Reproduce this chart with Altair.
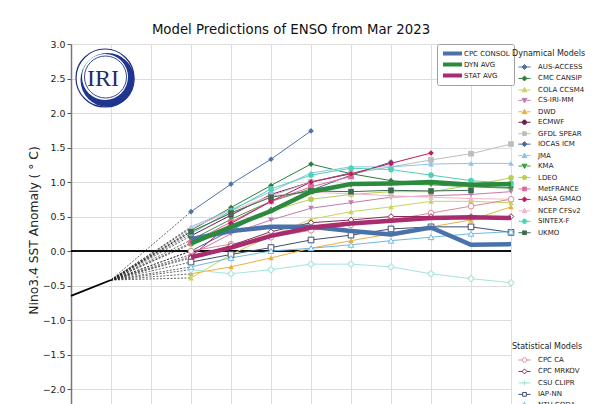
import altair as alt
import pandas as pd

TITLE = "Model Predictions of ENSO from Mar 2023"
Y_TITLE = "Nino3.4 SST Anomaly ( \u00b0 C)"
SEASONS = ["DJF", "JFM", "FMA", "MAM", "AMJ", "MJJ", "JJA", "JAS", "ASO", "SON", "OND", "NDJ"]
Y_TICKS = [-2.0, -1.5, -1.0, -0.5, 0.0, 0.5, 1.0, 1.5, 2.0, 2.5, 3.0]
Y_MAX = 3.0
Y_MIN = -2.217

OBS_SEASON = [0, 1]
OBS_VALUE = [-0.65, -0.42]
FIRST_FORECAST = 3

# Dynamical models (values from the first forecast season onward)
AUS_ACCESS = [0.57, 0.97, 1.33, 1.74]
CMC_CANSIP = [0.30, 0.63, 0.95, 1.26, 1.12, 1.02, 0.98, 0.94, 0.92]
COLA_CCSM4 = [-0.39, -0.05, 0.22, 0.46, 0.57, 0.64, 0.72, 0.72, 0.70]
CS_IRI_MM = [-0.05, 0.25, 0.45, 0.62, 0.70, 0.78, 0.80, 0.82, 0.86]
DWD = [-0.33, -0.23, -0.10, 0.04, 0.15, 0.25, 0.35, 0.45, 0.64]
ECMWF = [0.22, 0.52, 0.82, 1.00, 1.13]
GFDL_SPEAR = [0.28, 0.55, 0.80, 1.00, 1.12, 1.22, 1.32, 1.41, 1.55]
IOCAS_ICM = [0.00, 0.30, 0.60, 0.88, 1.10, 1.29]
JMA = [0.35, 0.60, 0.86, 1.13, 1.22, 1.22, 1.26, 1.27, 1.27]
KMA = [0.16, 0.46, 0.72, 0.90, 0.95, 0.97, 0.96, 0.93, 0.91]
LDEO = [0.10, 0.36, 0.58, 0.75, 0.82, 0.86, 0.86, 0.95, 1.06]
METFRANCE = [0.12, 0.42, 0.72, 0.93, 1.08]
NASA_GMAO = [-0.08, 0.40, 0.72, 1.00, 1.12, 1.27, 1.42]
NCEP_CFSV2 = [0.33, 0.58, 0.80, 0.85, 0.83, 0.80, 0.78, 0.76, 0.75]
SINTEX_F = [0.25, 0.58, 0.90, 1.10, 1.20, 1.18, 1.10, 1.02, 0.98]
UKMO = [0.28, 0.55, 0.78, 0.87, 0.86, 0.88, 0.87, 0.88]

DYN_MODELS = ["AUS-ACCESS", "CMC CANSIP", "COLA CCSM4", "CS-IRI-MM", "DWD", "ECMWF",
              "GFDL SPEAR", "IOCAS ICM", "JMA", "KMA", "LDEO", "MetFRANCE", "NASA GMAO",
              "NCEP CFSv2", "SINTEX-F", "UKMO"]
DYN_VALUES = [AUS_ACCESS, CMC_CANSIP, COLA_CCSM4, CS_IRI_MM, DWD, ECMWF, GFDL_SPEAR,
              IOCAS_ICM, JMA, KMA, LDEO, METFRANCE, NASA_GMAO, NCEP_CFSV2, SINTEX_F, UKMO]
DYN_COLORS = ["#4c74a8", "#2e7d3a", "#c5d65a", "#c27bb0", "#e8b040", "#6b1f4f",
              "#bdbdbd", "#4d6595", "#8cc4ea", "#3f9a3f", "#b4cf55", "#e0699c",
              "#c2185b", "#f2b6c6", "#4fd1b3", "#3d6b52"]
DYN_SHAPES = ["diamond", "diamond", "triangle-up", "triangle-down", "triangle-up", "circle",
              "square", "diamond", "triangle-up", "triangle-down", "circle", "square",
              "diamond", "triangle-up", "circle", "square"]

# Statistical models
CPC_CA = [0.00, 0.10, 0.20, 0.30, 0.38, 0.45, 0.55, 0.65, 0.75]
CPC_MRKOV = [-0.10, 0.08, 0.28, 0.41, 0.45, 0.50, 0.50, 0.50, 0.50]
CSU_CLIPR = [-0.27, -0.33, -0.27, -0.19, -0.19, -0.23, -0.33, -0.40, -0.46]
IAP_NN = [-0.16, -0.05, 0.05, 0.16, 0.23, 0.32, 0.35, 0.35, 0.27]
NTU_CODA = [-0.23, -0.10, 0.00, 0.04, 0.09, 0.15, 0.20, 0.25, 0.28]

STAT_MODELS = ["CPC CA", "CPC MRKOV", "CSU CLIPR", "IAP-NN", "NTU CODA"]
STAT_VALUES = [CPC_CA, CPC_MRKOV, CSU_CLIPR, IAP_NN, NTU_CODA]
STAT_COLORS = ["#d98b9b", "#8b2d52", "#a5e3dc", "#3f4d6b", "#6fb8e3"]
STAT_SHAPES = ["circle", "diamond", "cross", "square", "triangle-up"]

# Averages
AVG_NAMES = ["CPC CONSOL", "DYN AVG", "STAT AVG"]
AVG_COLORS = ["#4a72aa", "#2b8a3e", "#a82c6e"]
CPC_CONSOL = [0.17, 0.29, 0.35, 0.35, 0.29, 0.24, 0.34, 0.09, 0.10]
DYN_AVG = [0.11, 0.35, 0.58, 0.86, 0.97, 0.98, 1.00, 0.96, 0.97]
STAT_AVG = [-0.09, 0.05, 0.22, 0.34, 0.40, 0.44, 0.48, 0.49, 0.48]
AVG_VALUES = [CPC_CONSOL, DYN_AVG, STAT_AVG]

FONT = "DejaVu Sans"


def long_table(names, series):
    rows = []
    for name, vals in zip(names, series):
        for k, v in enumerate(vals):
            rows.append({"model": name, "x": FIRST_FORECAST + k, "y": v})
    return pd.DataFrame(rows)


def marker_path(shape, cx, r=0.45):
    if shape == "circle":
        r = 0.4
        return f"M{cx + r:.2f},0A{r},{r} 0 1,1 {cx - r:.2f},0A{r},{r} 0 1,1 {cx + r:.2f},0Z"
    if shape == "square":
        h = 0.34
        return f"M{cx - h:.2f},{-h}H{cx + h:.2f}V{h}H{cx - h:.2f}Z"
    if shape == "diamond":
        return f"M{cx:.2f},{-r}L{cx + r:.2f},0L{cx:.2f},{r}L{cx - r:.2f},0Z"
    if shape == "triangle-up":
        return f"M{cx:.2f},{-r}L{cx + r:.2f},{0.75 * r:.2f}H{cx - r:.2f}Z"
    if shape == "triangle-down":
        return f"M{cx:.2f},{r}L{cx + r:.2f},{-0.75 * r:.2f}H{cx - r:.2f}Z"
    return f"M{cx - r:.2f},0H{cx + r:.2f}M{cx:.2f},{-r}V{r}"


def legend_path(shape, cx=1.18):
    gap = 0.0 if shape == "cross" else 0.42
    line = f"M{cx - 1.1:.2f},0H{cx - gap:.2f}M{cx + gap:.2f},0H{cx + 1.1:.2f}"
    return line + marker_path(shape, cx)


AVG_LEGEND_PATH = "M-1.0,0H2.8"

dyn_df = long_table(DYN_MODELS, DYN_VALUES)
stat_df = long_table(STAT_MODELS, STAT_VALUES)
avg_df = long_table(AVG_NAMES, AVG_VALUES)
obs_df = pd.DataFrame({"x": OBS_SEASON, "y": OBS_VALUE})

fan_rows = []
for name, vals in zip(DYN_MODELS + STAT_MODELS, DYN_VALUES + STAT_VALUES):
    fan_rows.append({"model": name, "x": OBS_SEASON[-1], "y": OBS_VALUE[-1]})
    fan_rows.append({"model": name, "x": FIRST_FORECAST, "y": vals[0]})
fan_df = pd.DataFrame(fan_rows)

xs = alt.Scale(domain=[0, len(SEASONS) - 1], nice=False, zero=False)
ys = alt.Scale(domain=[Y_MIN, Y_MAX], nice=False, zero=False)
X_AXIS = alt.Axis(values=list(range(len(SEASONS))), labels=False, ticks=False, domain=False,
                  grid=True, title=None)
Y_AXIS = alt.Axis(values=Y_TICKS, format=".1f", title=Y_TITLE, titleFont=FONT,
                  titleFontSize=12.3, titleFontWeight="normal", titleColor="#222",
                  titleX=-38, titleY=186, titleAngle=270, titleAlign="center",
                  titleBaseline="middle",
                  labelFont=FONT, labelFontSize=9.4, labelColor="#222",
                  labelPadding=2, tickSize=4, tickColor="#555", domainColor="#777",
                  domainWidth=1.5, grid=True)
X = alt.X("x:Q", scale=xs, axis=X_AXIS)
Y = alt.Y("y:Q", scale=ys, axis=Y_AXIS)

dyn_color = alt.Scale(domain=DYN_MODELS, range=DYN_COLORS)
stat_color = alt.Scale(domain=STAT_MODELS, range=STAT_COLORS)
avg_color = alt.Scale(domain=AVG_NAMES, range=AVG_COLORS)


def model_legend(title, y):
    return alt.Legend(title=title, orient="none", legendX=441, legendY=y,
                      titleFontSize=8, titleFontWeight="normal", titleFont=FONT,
                      titleColor="#222", titlePadding=3, labelFontSize=7, labelFont=FONT,
                      labelColor="#222", labelOffset=14, symbolSize=121,
                      symbolStrokeWidth=1, rowPadding=0.45, padding=0)


AVG_LEGEND = alt.Legend(title=None, orient="none", legendX=366, legendY=0,
                        padding=4, fillColor="white", strokeColor="#a0a0a0",
                        cornerRadius=2, labelFontSize=7, labelFont=FONT,
                        labelColor="#222", labelOffset=9,
                        symbolStrokeWidth=4, rowPadding=0, clipHeight=11)

obs = alt.Chart(obs_df).mark_line(color="black", strokeWidth=1.8).encode(x=X, y=Y)

zero = alt.Chart(obs_df).mark_rule(color="black", strokeWidth=1.6).encode(
    y=alt.datum(0, scale=ys, axis=Y_AXIS))

# IRI logo
logo_df = pd.DataFrame({"k": [0]})
logo_outer = alt.Chart(logo_df).mark_point(shape="circle", size=58 * 58, filled=True,
                                           fill="white", stroke="#1f2f7a", strokeWidth=1.2,
                                           opacity=1).encode(x=alt.value(34), y=alt.value(34))
logo_cres = alt.Chart(logo_df).mark_point(shape="circle", size=54 * 54, filled=True,
                                          fill="#1f3590", opacity=1).encode(
    x=alt.value(36.5), y=alt.value(36))
logo_white = alt.Chart(logo_df).mark_point(shape="circle", size=46 * 46, filled=True,
                                           fill="white", opacity=1).encode(
    x=alt.value(34), y=alt.value(33))
logo_inner = alt.Chart(logo_df).mark_point(shape="circle", size=42 * 42, filled=False,
                                           stroke="#3a4a8a", strokeWidth=1, opacity=1).encode(
    x=alt.value(34.5), y=alt.value(33))
logo_text = alt.Chart(logo_df).mark_text(text="IRI", font="Liberation Serif", fontSize=24,
                                         color="#1f2f6a", baseline="middle", align="center").encode(
    x=alt.value(32), y=alt.value(35))

fan = alt.Chart(fan_df).mark_line(color="#222", strokeWidth=0.7, strokeDash=[2, 1.5]).encode(
    x=X, y=Y, detail="model:N")

dyn_lines = alt.Chart(dyn_df).mark_line(strokeWidth=1).encode(
    x=X, y=Y, color=alt.Color("model:N", scale=dyn_color, legend=None))
dyn_pts = alt.Chart(dyn_df).mark_point(filled=True, size=32, opacity=1).encode(
    x=X, y=Y, color=alt.Color("model:N", scale=dyn_color, legend=None),
    shape=alt.Shape("model:N", scale=alt.Scale(domain=DYN_MODELS, range=DYN_SHAPES), legend=None))
stat_lines = alt.Chart(stat_df).mark_line(strokeWidth=1).encode(
    x=X, y=Y, color=alt.Color("model:N", scale=stat_color, legend=None))
stat_pts = alt.Chart(stat_df).mark_point(filled=False, fill="white", size=32, strokeWidth=1,
                                         opacity=1).encode(
    x=X, y=Y, color=alt.Color("model:N", scale=stat_color, legend=None),
    shape=alt.Shape("model:N", scale=alt.Scale(domain=STAT_MODELS, range=STAT_SHAPES), legend=None))

avg_lines = alt.Chart(avg_df).mark_line(strokeWidth=4.5).encode(
    x=X, y=Y, color=alt.Color("model:N", scale=avg_color, legend=None))

# legend-only layers
avg_leg = alt.Chart(pd.DataFrame({"model": AVG_NAMES})).transform_filter("false").mark_point(
    opacity=1, strokeWidth=4).encode(
    stroke=alt.Stroke("model:N", scale=avg_color, legend=AVG_LEGEND),
    shape=alt.Shape("model:N", scale=alt.Scale(domain=AVG_NAMES,
                                               range=[AVG_LEGEND_PATH] * len(AVG_NAMES)),
                    legend=AVG_LEGEND))
dyn_leg = alt.Chart(pd.DataFrame({"model": DYN_MODELS})).transform_filter("false").mark_point(
    opacity=1).encode(
    fill=alt.Fill("model:N", scale=dyn_color, legend=model_legend("Dynamical Models", 6)),
    stroke=alt.Stroke("model:N", scale=dyn_color, legend=model_legend("Dynamical Models", 6)),
    shape=alt.Shape("model:N", scale=alt.Scale(domain=DYN_MODELS,
                                               range=[legend_path(s) for s in DYN_SHAPES]),
                    legend=model_legend("Dynamical Models", 6)))
stat_leg = alt.Chart(pd.DataFrame({"model": STAT_MODELS})).transform_filter("false").mark_point(
    opacity=1, fill="white").encode(
    stroke=alt.Stroke("model:N", scale=stat_color, legend=model_legend("Statistical Models", 299)),
    shape=alt.Shape("model:N", scale=alt.Scale(domain=STAT_MODELS,
                                               range=[legend_path(s) for s in STAT_SHAPES]),
                    legend=model_legend("Statistical Models", 299)))

chart = alt.layer(
    obs, zero, logo_outer, logo_cres, logo_white, logo_inner, logo_text,
    fan, dyn_lines, stat_lines, dyn_pts, stat_pts, avg_lines, avg_leg, dyn_leg, stat_leg
).resolve_scale(
    color="independent", fill="independent", stroke="independent", shape="independent"
).properties(
    width=440, height=360,
    autosize=alt.AutoSizeParams(type="none"),
    padding={"left": 63, "top": 36, "right": 81, "bottom": 0},
    title=alt.TitleParams(TITLE, font=FONT, fontSize=13.3, fontWeight="normal", color="#111",
                          anchor="middle", frame="group", offset=3),
).configure_view(
    stroke="#555", strokeWidth=1.2
).configure_axis(
    gridColor="#e3e3e3", gridWidth=1.5
).configure(background="white")

chart.save("out.html", embed_options={"renderer": "svg", "actions": False})
